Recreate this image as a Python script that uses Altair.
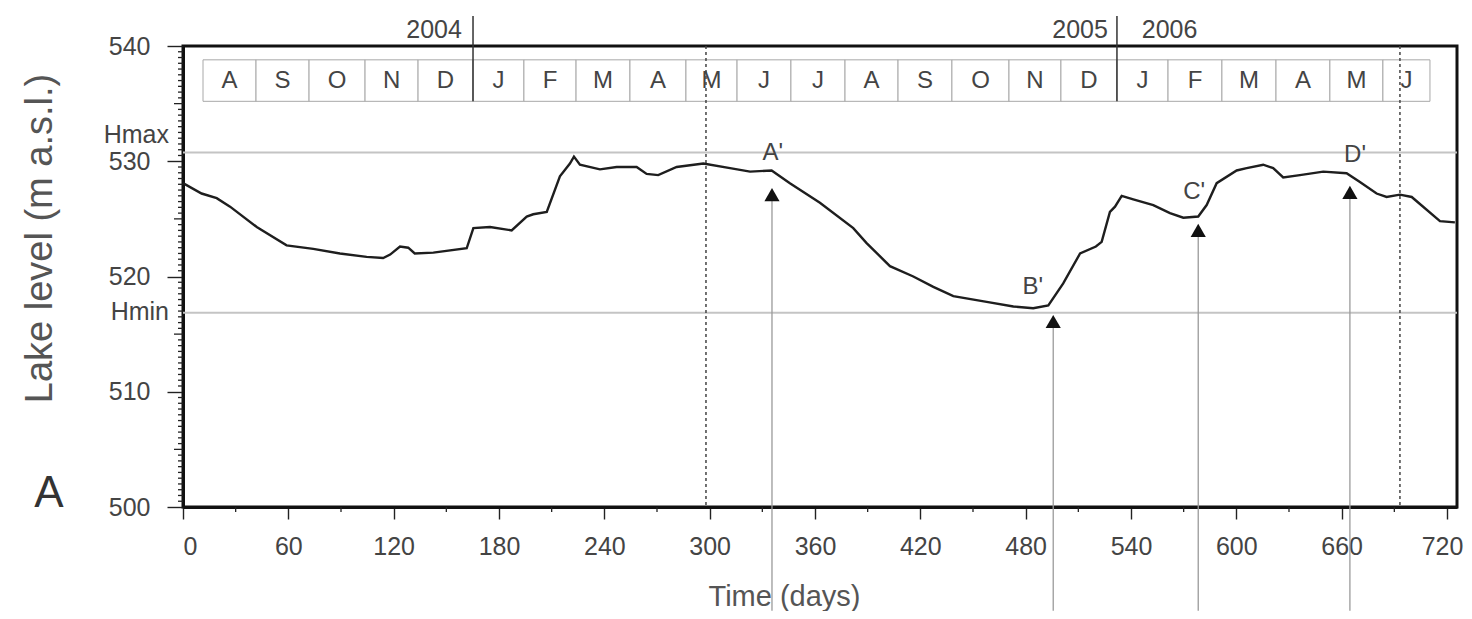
import altair as alt
import pandas as pd

# ---------------- data ----------------
days = [0, 10.6, 19.2, 26.8, 42, 59, 74.2, 89.4, 104.6, 114, 118, 123.6, 128.3, 132,
        142.6, 161.6, 165.4, 174.9, 187.2, 195.8, 199.5, 207.2, 214.7, 220.4, 222.7,
        226.1, 237.5, 247, 258.4, 264.1, 270.7, 281.2, 296.4, 311.6, 323, 335.3, 345.7,
        362.8, 381.8, 389.4, 402.7, 416, 427.4, 438.8, 457.8, 473, 484.3, 492.9, 501.4,
        511, 520, 523.3, 528, 530.9, 534.7, 541.3, 552.7, 562.2, 569.8, 578.3, 583.1,
        588.8, 600.2, 605.9, 615.3, 621, 626.7, 636.2, 649.5, 662.8, 670.4, 679.9,
        685.6, 693.2, 699.9, 716, 724.5]
levels = [528.1, 527.2, 526.8, 526.06, 524.3, 522.7, 522.4, 522.0, 521.7, 521.6, 521.9,
          522.6, 522.5, 522.0, 522.07, 522.45, 524.2, 524.3, 524.0, 525.2, 525.4, 525.6,
          528.7, 529.8, 530.4, 529.7, 529.3, 529.5, 529.5, 528.9, 528.8, 529.5, 529.8,
          529.4, 529.1, 529.2, 528.1, 526.4, 524.2, 522.9, 520.9, 520.0, 519.1, 518.3,
          517.8, 517.4, 517.25, 517.5, 519.4, 522.0, 522.6, 523.0, 525.6, 526.06, 527.0,
          526.7, 526.2, 525.5, 525.1, 525.2, 526.2, 528.1, 529.2, 529.4, 529.7, 529.4,
          528.6, 528.8, 529.1, 528.96, 528.2, 527.2, 526.9, 527.1, 526.9, 524.8, 524.7]

month_letters = ["A", "S", "O", "N", "D", "J", "F", "M", "A", "M", "J", "J",
                 "A", "S", "O", "N", "D", "J", "F", "M", "A", "M", "J"]
month_edges = [11.4, 41.6, 71.8, 103.7, 133.9, 165.2, 194.2, 223.9, 254.6, 286.5,
               315.6, 346.3, 377.1, 407.3, 438.0, 470.5, 500.1, 532.0, 561.1, 591.8,
               622.6, 653.3, 683.5, 710.3]
strip_low, strip_high, strip_text_level = 535.2, 538.8, 537.0

year_labels = ["2004", "2005", "2006"]
year_label_days = [143, 511, 562]
year_label_level = 541.4
year_line_days = [165.2, 532.0]
year_line_top = 542.6

dotted_days = [297.9, 693.2]

h_names = ["Hmax", "Hmin"]
h_levels = [530.75, 516.85]
h_label_levels = [532.3, 516.9]

event_names = ["A'", "B'", "C'", "D'"]
event_days = [335.5, 495.7, 578.3, 664.7]
event_levels = [527.1, 516.1, 524.0, 527.3]
event_label_days = [336, 484, 576, 667.6]
event_label_levels = [530.7, 519.1, 527.3, 530.5]
arrow_base_level = 491.0

y_tick_values = [500, 510, 520, 530, 540]
x_tick_values = list(range(0, 721, 60))
x_minor_values = list(range(30, 721, 60))
y_half_values = [500 + 0.5 * i for i in range(81) if (500 + 0.5 * i) % 5 != 0]
y_five_values = [505, 515, 525, 535]

panel_label = "A"

# ---------------- style ----------------
FONT = "Liberation Sans"
TXT = "#444444"
W, H = 1274, 461
xs = alt.Scale(domain=[0, 725.7], nice=False, zero=False)
ys = alt.Scale(domain=[500, 540], nice=False, zero=False)

x_axis = alt.Axis(
    values=x_tick_values, title="Time (days)", tickSize=12, labelPadding=15,
    labelOffset={"condition": {"test": "datum.value == 720", "value": -5}, "value": 0},
    titleX=601, titleY=98, titleBaseline="alphabetic", titleFontSize=29,
    titleAlign="center")
y_axis = alt.Axis(
    values=y_tick_values, title="Lake level (m a.s.l.)", tickSize=16, labelPadding=17,
    titleX=-143, titleY=192, titleAngle=270, titleAlign="center",
    titleBaseline="middle", titleFontSize=38)


def X(field):
    return alt.X(field, scale=xs, axis=x_axis)


def Y(field):
    return alt.Y(field, scale=ys, axis=y_axis)


df_line = pd.DataFrame({"day": days, "level": levels})
df_months = pd.DataFrame({
    "m": month_letters,
    "start": month_edges[:-1],
    "end": month_edges[1:],
})
df_months["mid"] = (df_months["start"] + df_months["end"]) / 2
df_months["lo"] = strip_low
df_months["hi"] = strip_high
df_months["ty"] = strip_text_level

df_years = pd.DataFrame({"t": year_labels, "d": year_label_days, "l": year_label_level})
df_yline = pd.DataFrame({"d": year_line_days, "lo": strip_low, "hi": year_line_top})
df_dot = pd.DataFrame({"d": dotted_days})
df_h = pd.DataFrame({"n": h_names, "l": h_levels, "ll": h_label_levels})
df_ev = pd.DataFrame({"n": event_names, "d": event_days, "l": event_levels,
                      "ld": event_label_days, "ll": event_label_levels,
                      "b": arrow_base_level})
df_yhalf = pd.DataFrame({"v": y_half_values})
df_yfive = pd.DataFrame({"v": y_five_values})
df_xmin = pd.DataFrame({"v": x_minor_values})
df_panel = pd.DataFrame({"t": [panel_label]})

line = alt.Chart(df_line).mark_line(color="#1e1e1e", strokeWidth=2.4).encode(
    x=X("day:Q"), y=Y("level:Q"))

strip = alt.Chart(df_months).mark_rect(fill="white", stroke="#a8a8a8", strokeWidth=1).encode(
    x=X("start:Q"), x2="end:Q", y=Y("lo:Q"), y2="hi:Q")
strip_text = alt.Chart(df_months).mark_text(font=FONT, fontSize=24, color=TXT, baseline="middle").encode(
    x=X("mid:Q"), y=Y("ty:Q"), text="m:N")

ylines = alt.Chart(df_yline).mark_rule(color="#333333", strokeWidth=1.5).encode(
    x=X("d:Q"), y=Y("lo:Q"), y2="hi:Q")
years = alt.Chart(df_years).mark_text(font=FONT, fontSize=25, color=TXT, baseline="middle").encode(
    x=X("d:Q"), y=Y("l:Q"), text="t:N")

dotted = alt.Chart(df_dot).mark_rule(color="#444444", strokeWidth=1.5, strokeDash=[3, 3]).encode(
    x=X("d:Q"))

hlines = alt.Chart(df_h).mark_rule(color="#c4c4c4", strokeWidth=2).encode(
    y=Y("l:Q"))
hlabels = alt.Chart(df_h).mark_text(font=FONT, fontSize=25, color=TXT, align="right",
                                    baseline="middle").encode(
    x=alt.value(-14), y=Y("ll:Q"), text="n:N")

arrows = alt.Chart(df_ev).mark_rule(color="#9a9a9a", strokeWidth=1.3).encode(
    x=X("d:Q"), y=Y("l:Q"), y2="b:Q")
tri = alt.Chart(df_ev).mark_point(shape="triangle-up", filled=True, size=230,
                                  color="#111111", opacity=1).encode(
    x=X("d:Q"), y=Y("l:Q"))
evlabels = alt.Chart(df_ev).mark_text(font=FONT, fontSize=24, color=TXT, baseline="middle").encode(
    x=X("ld:Q"), y=Y("ll:Q"), text="n:N")

yhalf = alt.Chart(df_yhalf).mark_rule(color="#222222", strokeWidth=1.3).encode(
    y=Y("v:Q"), x=alt.value(-5), x2=alt.value(0))
yfive = alt.Chart(df_yfive).mark_rule(color="#222222", strokeWidth=1.3).encode(
    y=Y("v:Q"), x=alt.value(-9), x2=alt.value(0))
xminor = alt.Chart(df_xmin).mark_rule(color="#222222", strokeWidth=1.3).encode(
    x=X("v:Q"), y=alt.value(H), y2=alt.value(H + 5))

panel = alt.Chart(df_panel).mark_text(font=FONT, fontSize=44, color="#333333",
                                      baseline="middle", align="center").encode(
    x=alt.value(-134), y=alt.value(448), text="t:N")

chart = alt.layer(
    strip, ylines, strip_text, years, hlines, dotted, arrows, line, tri, evlabels,
    hlabels, yhalf, yfive, xminor, panel
).properties(
    width=W, height=H,
    padding={"left": 175, "top": 38, "right": 7, "bottom": 104},
    autosize=alt.AutoSizeParams(type="none"),
).configure_view(
    stroke="#111111", strokeWidth=3
).configure_axis(
    grid=False, domainColor="#111111", domainWidth=3, tickColor="#222222", tickWidth=1.4,
    labelFont=FONT, labelFontSize=25, labelColor=TXT, titleFont=FONT,
    titleFontWeight="normal", titleColor="#555555"
)

chart.save("out.html", embed_options={"renderer": "svg", "actions": False})
